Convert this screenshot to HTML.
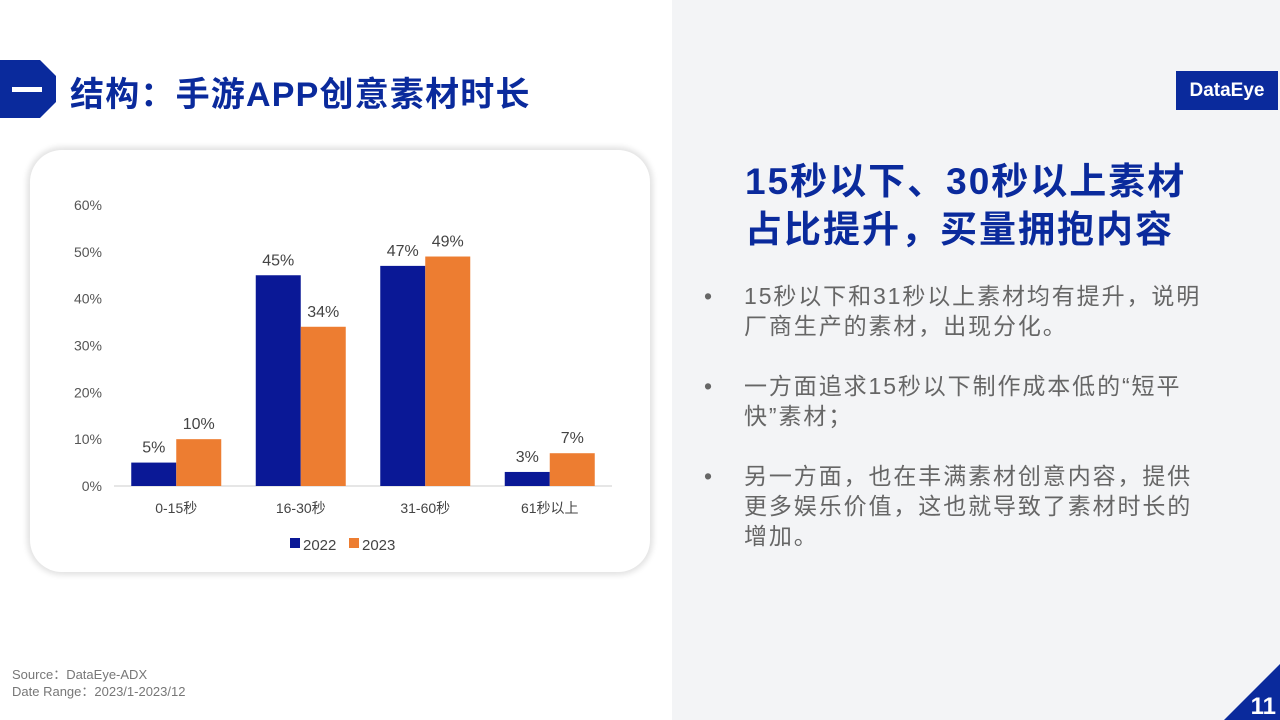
<!DOCTYPE html>
<html><head><meta charset="utf-8">
<style>
*{margin:0;padding:0;box-sizing:border-box}
body{width:1280px;height:720px;overflow:hidden;background:#fff;position:relative;font-family:"Liberation Sans","Noto Sans CJK SC",sans-serif}
.abs{position:absolute}
</style></head><body>
<div class="abs" style="left:672px;top:0;width:608px;height:720px;background:#f3f4f6"></div>
<svg class="abs" style="left:0;top:60px" width="60" height="58"><polygon points="0,0 40,0 56,16 56,42 40,58 0,58" fill="#0a2a9c"/><rect x="12" y="27" width="30" height="5" fill="#fff"/></svg>
<div class="abs" style="left:70px;top:67px;font-size:34px;font-weight:bold;color:#0a2a9c;letter-spacing:1.2px">结构：手游APP创意素材时长</div>
<div class="abs" style="left:1176px;top:71px;width:102px;height:39px;background:#0a2a9c;color:#fff;font-size:19px;font-weight:bold;text-align:center;line-height:39px">DataEye</div>
<div class="abs" style="left:30px;top:150px;width:620px;height:422px;border-radius:32px;background:#fff;box-shadow:0 0 6px 3px #e2e2e2"></div>
<svg class="abs" id="chart" style="left:0;top:0" width="672" height="600"></svg>
<div class="abs" style="left:745px;top:158px;font-size:37px;font-weight:bold;color:#0a2a9c;line-height:48px;letter-spacing:2px;white-space:nowrap">15秒以下、30秒以上素材<br>占比提升，买量拥抱内容</div>
<div class="abs" style="left:704px;top:281px;font-size:23px;color:#666;line-height:30px;width:540px;letter-spacing:1.9px;white-space:nowrap">
<div style="position:relative;padding-left:40px;margin-bottom:30px"><span style="position:absolute;left:0">•</span>15秒以下和31秒以上素材均有提升，说明<br>厂商生产的素材，出现分化。</div>
<div style="position:relative;padding-left:40px;margin-bottom:30px"><span style="position:absolute;left:0">•</span>一方面追求15秒以下制作成本低的“短平<br>快”素材；</div>
<div style="position:relative;padding-left:40px"><span style="position:absolute;left:0">•</span>另一方面，也在丰满素材创意内容，提供<br>更多娱乐价值，这也就导致了素材时长的<br>增加。</div>
</div>
<div class="abs" style="left:12px;top:666px;font-size:13px;color:#777;line-height:17px">Source：DataEye-ADX<br>Date Range：2023/1-2023/12</div>
<svg class="abs" style="left:1224px;top:664px" width="56" height="56"><polygon points="56,0 56,56 0,56" fill="#0a2a9c"/><text x="52" y="50" text-anchor="end" font-size="24" font-weight="bold" fill="#fff" font-family="Liberation Sans">11</text></svg>
<script>
const categories=["0-15秒","16-30秒","31-60秒","61秒以上"];
const series2022=[5,45,47,3];
const series2023=[10,34,49,7];
const ticks=[0,10,20,30,40,50,60];
const svg=document.getElementById('chart');
const NS='http://www.w3.org/2000/svg';
const y0=486,pxPer=281/60,x0=114,bandW=124.5,barW=45;
const Y=v=>y0-v*pxPer;
const X=i=>x0+bandW*(i+0.5);
function el(t,a){const e=document.createElementNS(NS,t);for(const k in a)e.setAttribute(k,a[k]);svg.appendChild(e);return e;}
ticks.forEach(t=>{const e=el('text',{x:102,y:Y(t)+5,'text-anchor':'end','font-size':14,fill:'#555'});e.textContent=t+'%';

});
const ax=el('line',{x1:x0,x2:x0+bandW*4,y1:y0,y2:y0,stroke:'#ccc'});


categories.forEach((c,i)=>{
 const cx=X(i);
 [[series2022[i],'#0a1896',cx-barW],[series2023[i],'#ed7d31',cx]].forEach(([v,col,x],j)=>{
  const r=el('rect',{x:x,y:Y(v),width:barW,height:v*pxPer,fill:col});
  
  
  const t=el('text',{x:x+barW/2,y:Y(v)-10,'text-anchor':'middle','font-size':16,fill:'#444'});t.textContent=v+'%';
  
  
 });
 const l=el('text',{x:cx,y:513,'text-anchor':'middle','font-size':14,fill:'#444'});l.textContent=c;
 
 
});
[['2022','#0a1896',290],['2023','#ed7d31',349]].forEach(([n,c,x])=>{
 const r=el('rect',{x:x,y:538,width:10,height:10,fill:c});
 
 
 const t=el('text',{x:x+13,y:550,'font-size':15,fill:'#444'});t.textContent=n;
 
 
});
</script>
</body></html>
